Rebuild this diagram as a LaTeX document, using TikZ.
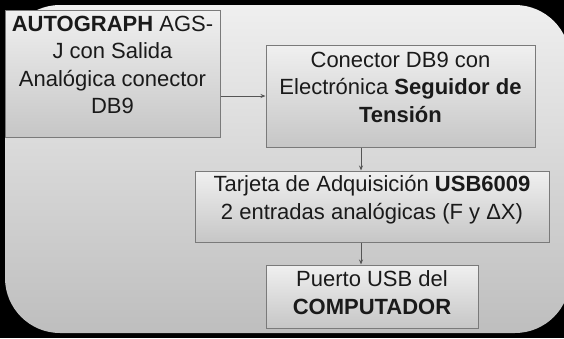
\documentclass[tikz,border=0pt]{standalone}
\usepackage{fontspec}
\setmainfont{Liberation Sans}
\usetikzlibrary{arrows.meta}
\definecolor{bgtop}{HTML}{EFEFEF}
\definecolor{bgbot}{HTML}{BEBEBE}
\definecolor{boxtop}{HTML}{F0F0F0}
\definecolor{boxbot}{HTML}{C6C6C6}
\definecolor{boxline}{HTML}{7A7A7A}
\definecolor{linkcol}{HTML}{555555}
\definecolor{textcol}{HTML}{1A1A1A}
\begin{document}
\begin{tikzpicture}[x=1pt,y=-1pt,
    block/.style={draw=boxline,line width=1pt,top color=boxtop,bottom color=boxbot,inner sep=0pt},
    txt/.style={inner sep=0pt,align=center,text=textcol,font=\fontsize{22}{27.5}\selectfont},
    link/.style={draw=linkcol,line width=0.8pt,-{Stealth[length=5pt,width=4pt]}}]
  \clip (0,0) rectangle (564,338);
  \fill[black] (0,0) rectangle (564,338);
  \shade[top color=bgtop,bottom color=bgbot,rounded corners=55pt] (5,5) rectangle (570,333);
  % boxes
  \node[block,minimum width=215pt,minimum height=127pt] (graph) at (112.5,73.5) {};
  \node[block,minimum width=269pt,minimum height=102pt] (follower) at (400.5,96) {};
  \node[block,minimum width=354pt,minimum height=71pt] (daq) at (372,206.5) {};
  \node[block,minimum width=212pt,minimum height=63pt] (usb) at (372,296.5) {};
  % texts
  \node[txt] (graph-txt) at (112.5,65) {\textbf{AUTOGRAPH} AGS-\\J con Salida\\Analógica conector\\DB9};
  \node[txt] (follower-txt) at (400.5,87) {Conector DB9 con\\Electrónica \textbf{Seguidor de}\\\textbf{Tensión}};
  \node[txt] (daq-txt) at (372,199.5) {Tarjeta de Adquisición \textbf{USB6009}\\2 entradas analógicas (F y ΔX)};
  \node[txt] (usb-txt) at (372,292.5) {Puerto USB del\\\textbf{COMPUTADOR}};
  % arrows
  \coordinate (drop) at (361,0);
  \draw[link] (graph.east |- follower.west) -- (follower.west);
  \draw[link] (follower.south -| drop) -- (daq.north -| drop);
  \draw[link] (daq.south -| drop) -- (usb.north -| drop);
\end{tikzpicture}
\end{document}
